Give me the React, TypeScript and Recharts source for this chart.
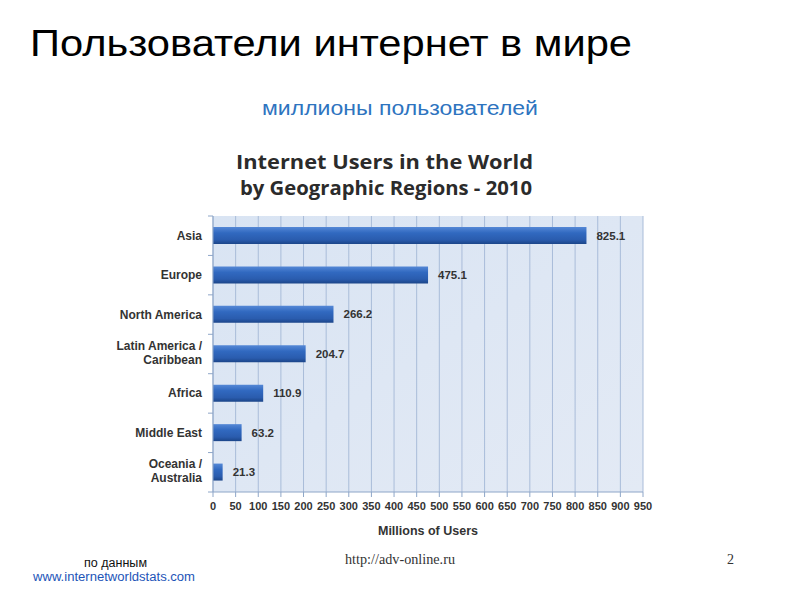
import { BarChart, Bar, XAxis, YAxis, CartesianGrid, LabelList } from "recharts";

const regions = [
  "Asia",
  "Europe",
  "North America",
  "Latin America /\nCaribbean",
  "Africa",
  "Middle East",
  "Oceania  /\nAustralia",
];
const users = [825.1, 475.1, 266.2, 204.7, 110.9, 63.2, 21.3];
const xTicks = [0, 50, 100, 150, 200, 250, 300, 350, 400, 450, 500, 550, 600, 650, 700, 750, 800, 850, 900, 950];

const data = regions.map((region, i) => ({ region, users: users[i] }));

const font = "'Liberation Sans', Arial, sans-serif";
const BAND = 276 / regions.length;

function RegionTick({ x, y, payload, index }: any) {
  const lines = String(payload.value).split("\n");
  const start = lines.length > 1 ? -4 : 4;
  const ax = x + 11;
  return (
    <g>
      <line x1={ax - 5} x2={ax} y1={y - BAND / 2} y2={y - BAND / 2} stroke="#8ea6c8" />
      {index === regions.length - 1 && (
        <line x1={ax - 5} x2={ax} y1={y + BAND / 2} y2={y + BAND / 2} stroke="#8ea6c8" />
      )}
      <text x={x} y={y} textAnchor="end" fontFamily={font} fontSize={12} fontWeight="bold" fill="#333">
        {lines.map((l: string, i: number) => (
          <tspan key={i} x={x} y={y + start + i * 14}>
            {l}
          </tspan>
        ))}
      </text>
    </g>
  );
}

export default function App() {
  return (
    <div style={{ position: "absolute", left: 0, top: 0, width: 800, height: 600, background: "#fff" }}>
      <BarChart
        width={800}
        height={600}
        data={data}
        layout="vertical"
        margin={{ top: 216, right: 157, bottom: 65, left: 0 }}
        barCategoryGap={0}
      >
        <defs>
          <linearGradient id="barFill" x1="0" y1="0" x2="0" y2="1">
            <stop offset="0%" stopColor="#5588d6" />
            <stop offset="35%" stopColor="#3169c0" />
            <stop offset="75%" stopColor="#2a5cae" />
            <stop offset="100%" stopColor="#1b4589" />
          </linearGradient>
          <linearGradient id="plotBg" x1="0" y1="0" x2="1" y2="1">
            <stop offset="0%" stopColor="#d9e4f3" />
            <stop offset="100%" stopColor="#e3eaf5" />
          </linearGradient>
        </defs>
        <CartesianGrid horizontal={false} stroke="#a9bcd9" fill="url(#plotBg)" fillOpacity={1} />
        <XAxis
          type="number"
          domain={[0, 950]}
          ticks={xTicks}
          interval={0}
          height={43}
          stroke="#8ea6c8"
          tickSize={5}
          tickMargin={5}
          tick={{ fontFamily: font, fontSize: 11, fontWeight: "bold", fill: "#333" }}
          label={{
            value: "Millions of Users",
            position: "insideBottom",
            offset: 0,
            fontFamily: font,
            fontSize: 12.5,
            fontWeight: "bold",
            fill: "#333",
          }}
        />
        <YAxis
          type="category"
          dataKey="region"
          width={213}
          stroke="#8ea6c8"
          tickSize={0}
          tickMargin={11}
          interval={0}
          tick={<RegionTick />}
        />
        <Bar dataKey="users" fill="url(#barFill)" barSize={17} isAnimationActive={false}>
          <LabelList
            dataKey="users"
            position="right"
            offset={10}
            formatter={(v: any) => Number(v).toFixed(1)}
            style={{ fontFamily: font, fontSize: 11.5, fontWeight: "bold", fill: "#333" }}
          />
        </Bar>
      </BarChart>
      <svg
        width={800}
        height={600}
        style={{ position: "absolute", left: 0, top: 0, pointerEvents: "none" }}
      >
        <text x={30} y={56} fontFamily={font} fontSize={37} fill="#000" textLength={602} lengthAdjust="spacingAndGlyphs">
          Пользователи интернет в мире
        </text>
        <text x={262} y={115} fontFamily={font} fontSize={20} fill="#2e74bf" textLength={276} lengthAdjust="spacingAndGlyphs">
          миллионы пользователей
        </text>
        <text x={236} y={169} fontFamily="'Open Sans', sans-serif" fontSize={20} fontWeight="bold" fill="#2b2b2b" textLength={297} lengthAdjust="spacingAndGlyphs">
          Internet Users in the World
        </text>
        <text x={240} y={195} fontFamily="'Open Sans', sans-serif" fontSize={20} fontWeight="bold" fill="#2b2b2b" textLength={292} lengthAdjust="spacingAndGlyphs">
          by Geographic Regions - 2010
        </text>
        <text x={84} y={567} fontFamily={font} fontSize={12.5} fill="#111" textLength={63} lengthAdjust="spacingAndGlyphs">
          по данным
        </text>
        <text x={33} y={581} fontFamily={font} fontSize={12.5} fill="#1d55b8" textLength={162} lengthAdjust="spacingAndGlyphs">
          www.internetworldstats.com
        </text>
        <text x={345} y={564} fontFamily="'Liberation Serif', serif" fontSize={14} fill="#333" textLength={110} lengthAdjust="spacingAndGlyphs">
          http://adv-online.ru
        </text>
        <text x={727} y={564} fontFamily="'Liberation Serif', serif" fontSize={14} fill="#333">
          2
        </text>
      </svg>
    </div>
  );
}
